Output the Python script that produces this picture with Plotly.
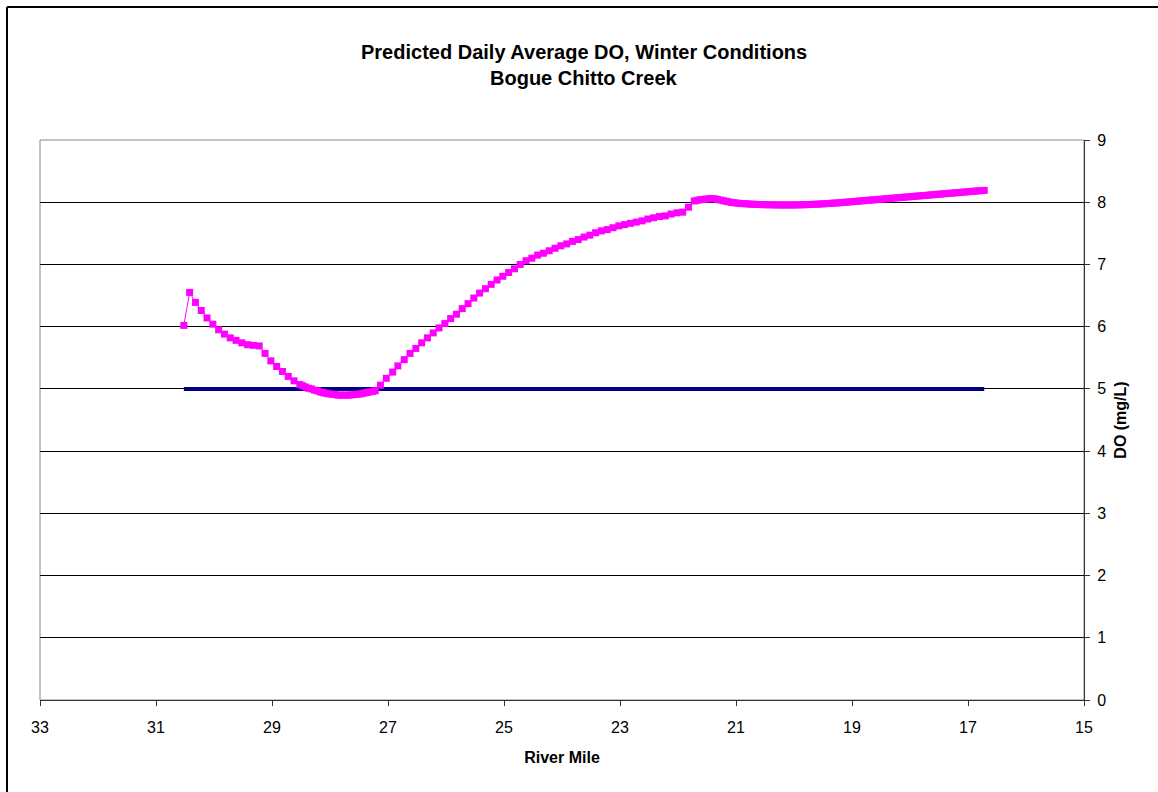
import plotly.graph_objects as go

# Predicted DO (pink series) - river mile and DO (mg/L)
river_mile = [
    30.52, 30.42, 30.32, 30.22, 30.12, 30.02, 29.92, 29.82, 29.72, 29.62,
    29.52, 29.42, 29.32, 29.22, 29.12, 29.02, 28.92, 28.82, 28.72, 28.62,
    28.52,
    28.47, 28.42, 28.37, 28.32, 28.27, 28.22, 28.17, 28.12, 28.07, 28.02,
    27.97, 27.92, 27.87, 27.82, 27.77, 27.72, 27.67, 27.62, 27.57, 27.52,
    27.47, 27.42, 27.37, 27.32, 27.27, 27.22,
    27.13, 27.03, 26.92, 26.83, 26.72, 26.62, 26.52, 26.42, 26.32, 26.22,
    26.12, 26.02, 25.92, 25.82, 25.72, 25.62, 25.52, 25.42, 25.32, 25.22,
    25.12, 25.02, 24.92, 24.82, 24.72, 24.62, 24.52, 24.42, 24.32, 24.22,
    24.12, 24.02, 23.92, 23.82, 23.72, 23.62, 23.52, 23.42, 23.32, 23.22,
    23.12, 23.02, 22.92, 22.82, 22.72, 22.62, 22.52, 22.42, 22.32, 22.22,
    22.12, 22.02, 21.92, 21.82, 21.72,
    21.67, 21.62, 21.57, 21.52, 21.47, 21.42, 21.37, 21.32, 21.27, 21.22,
    21.17, 21.12, 21.07, 21.02, 20.97, 20.92, 20.87, 20.82, 20.77, 20.72,
    20.67, 20.62, 20.57, 20.52, 20.47, 20.42, 20.37, 20.32, 20.27, 20.22,
    20.17, 20.12, 20.07, 20.02, 19.97, 19.92, 19.87, 19.82, 19.77, 19.72,
    19.67, 19.62, 19.57, 19.52, 19.47, 19.42, 19.37, 19.32, 19.27, 19.22,
    19.17, 19.12, 19.07, 19.02, 18.97, 18.92, 18.87, 18.82, 18.77, 18.72,
    18.67, 18.62, 18.57, 18.52, 18.47, 18.42, 18.37, 18.32, 18.27, 18.22,
    18.17, 18.12, 18.07, 18.02, 17.97, 17.92, 17.87, 17.82, 17.77, 17.72,
    17.67, 17.62, 17.57, 17.52, 17.47, 17.42, 17.37, 17.32, 17.27, 17.22,
    17.17, 17.12, 17.07, 17.02, 16.97, 16.92, 16.87, 16.82, 16.77, 16.72,
]
do_predicted = [
    6.02, 6.55, 6.39, 6.26, 6.14, 6.04, 5.95, 5.88, 5.82, 5.78,
    5.74, 5.71, 5.70, 5.69, 5.57, 5.45, 5.36, 5.28, 5.20, 5.13,
    5.07,
    5.05, 5.03, 5.01, 5.00, 4.98, 4.97, 4.95, 4.94, 4.93, 4.92,
    4.915, 4.91, 4.90, 4.90, 4.90, 4.90, 4.90, 4.905, 4.91, 4.915,
    4.92, 4.93, 4.94, 4.95, 4.96, 4.97,
    5.06, 5.17, 5.27, 5.37, 5.47, 5.57, 5.65, 5.74, 5.82, 5.90,
    5.98, 6.05, 6.13, 6.20, 6.29, 6.37, 6.46, 6.54, 6.61, 6.68,
    6.75, 6.81, 6.87, 6.93, 7.00, 7.06, 7.10, 7.15, 7.18, 7.22,
    7.26, 7.30, 7.33, 7.37, 7.40, 7.44, 7.47, 7.51, 7.54, 7.56,
    7.59, 7.62, 7.64, 7.66, 7.68, 7.70, 7.73, 7.75, 7.77, 7.78,
    7.81, 7.83, 7.84, 7.92, 8.02,
    8.03, 8.04, 8.045, 8.05, 8.055, 8.06, 8.055, 8.045, 8.035, 8.025,
    8.015, 8.005, 7.995, 7.99, 7.985, 7.98, 7.977, 7.974, 7.971, 7.968,
    7.966, 7.964, 7.962, 7.961, 7.96, 7.959, 7.958, 7.957, 7.957, 7.956,
    7.956, 7.956, 7.956, 7.956, 7.957, 7.958, 7.959, 7.96, 7.962, 7.964,
    7.966, 7.968, 7.97, 7.973, 7.976, 7.979, 7.982, 7.985, 7.988, 7.991,
    7.995, 7.999, 8.003, 8.007, 8.011, 8.015, 8.019, 8.023, 8.027, 8.031,
    8.035, 8.039, 8.043, 8.047, 8.051, 8.055, 8.059, 8.063, 8.067, 8.071,
    8.075, 8.079, 8.083, 8.087, 8.091, 8.095, 8.099, 8.103, 8.107, 8.111,
    8.115, 8.119, 8.123, 8.127, 8.131, 8.135, 8.139, 8.143, 8.147, 8.151,
    8.155, 8.159, 8.163, 8.167, 8.171, 8.175, 8.179, 8.183, 8.187, 8.19,
]

# DO standard (navy line)
standard_mile = [30.52, 16.72]
standard_do = [5.0, 5.0]

x_ticks = [33, 31, 29, 27, 25, 23, 21, 19, 17, 15]
y_ticks = [0, 1, 2, 3, 4, 5, 6, 7, 8, 9]

FONT = "Liberation Sans, Arial, sans-serif"

# plot area target: x 40..1084, y 140..700 (page body margin removed)
W, H = 1158, 792
ML, MR, MT, MB = 40, 74, 140, 92
PW = W - ML - MR
PH = H - MT - MB


def px_x(px):
    return (px - ML) / PW


def px_y(py):
    return (MT + PH - py) / PH


fig = go.Figure()
fig.add_trace(go.Scatter(
    x=standard_mile, y=standard_do, mode="lines",
    line=dict(color="#000080", width=4),
    showlegend=False, hoverinfo="skip",
))
fig.add_trace(go.Scatter(
    x=river_mile, y=do_predicted, mode="lines+markers",
    line=dict(color="#FF00FF", width=1),
    marker=dict(symbol="square", size=7, color="#FF00FF",
                line=dict(width=0)),
    showlegend=False,
))

fig.update_layout(
    width=W, height=H,
    margin=dict(l=ML, r=MR, t=MT, b=MB, pad=0),
    paper_bgcolor="white", plot_bgcolor="white",
    font=dict(family=FONT, size=16, color="black"),
    xaxis=dict(
        range=[33, 15], tickmode="array", tickvals=x_ticks,
        ticktext=[str(v) for v in x_ticks],
        ticks="outside", ticklen=5, tickcolor="#333",
        ticklabelstandoff=8,
        showline=True, linecolor="#333", linewidth=1,
        showgrid=False, zeroline=False,
        title=dict(text="<b>River Mile</b>", font=dict(size=16), standoff=16),
    ),
    yaxis=dict(
        range=[0, 9], tickmode="array", tickvals=y_ticks,
        side="right", ticks="outside", ticklen=5, tickcolor="#333",
        ticklabelstandoff=4,
        showline=True, linecolor="#333", linewidth=1,
        showgrid=True, gridcolor="#000", gridwidth=1,
        zeroline=False,
        title=dict(text="<b>DO (mg/L)</b>", font=dict(size=16), standoff=9),
    ),
    shapes=[
        dict(type="rect", xref="paper", yref="paper", x0=0, x1=1, y0=0, y1=1,
             line=dict(color="#888", width=1), layer="below"),
        # outer chart frame (left and top edges visible in the picture)
        dict(type="line", xref="paper", yref="paper",
             x0=px_x(7), x1=px_x(1158), y0=px_y(7), y1=px_y(7),
             line=dict(color="black", width=2), layer="above"),
        dict(type="line", xref="paper", yref="paper",
             x0=px_x(7), x1=px_x(7), y0=px_y(792), y1=px_y(7),
             line=dict(color="black", width=2), layer="above"),
    ],
    annotations=[
        dict(text="<b>Predicted Daily Average DO, Winter Conditions</b>",
             xref="paper", yref="paper", x=px_x(584), y=px_y(52),
             showarrow=False, font=dict(size=20, family=FONT),
             xanchor="center", yanchor="middle"),
        dict(text="<b>Bogue Chitto Creek</b>",
             xref="paper", yref="paper", x=px_x(584), y=px_y(78),
             showarrow=False, font=dict(size=20, family=FONT),
             xanchor="center", yanchor="middle"),
    ],
)

fig.write_html(
    "out.html",
    config={"displayModeBar": False},
    post_script="document.body.style.margin='0px';document.body.style.overflow='hidden';",
)
